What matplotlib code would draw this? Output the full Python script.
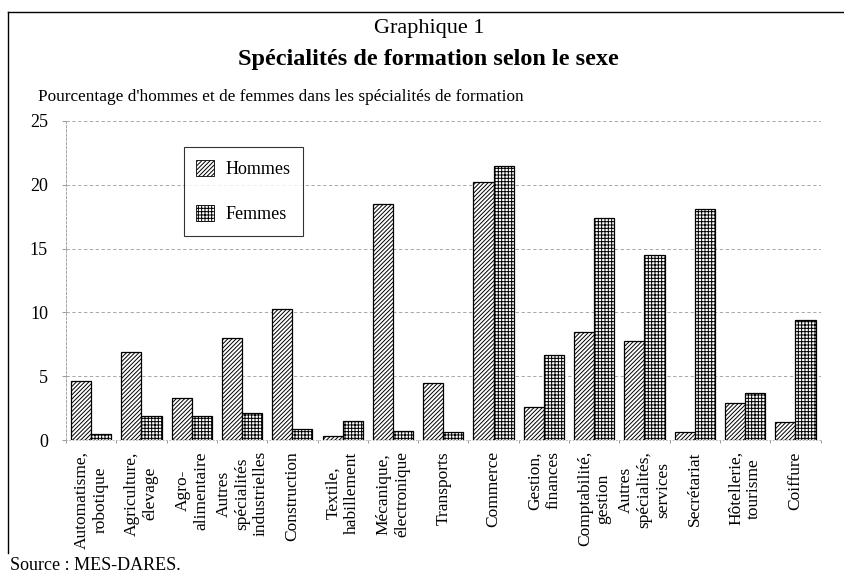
import numpy as np
import matplotlib
matplotlib.use("Agg")
import matplotlib.pyplot as plt
from matplotlib.lines import Line2D
from matplotlib.patches import Patch

plt.rcParams["font.family"] = ["Liberation Serif", "DejaVu Serif"]
plt.rcParams["hatch.linewidth"] = 0.7

categories = [
    "Automatisme,\nrobotique",
    "Agriculture,\nélevage",
    "Agro-\nalimentaire",
    "Autres\nspécialités\nindustrielles",
    "Construction",
    "Textile,\nhabillement",
    "Mécanique,\nélectronique",
    "Transports",
    "Commerce",
    "Gestion,\nfinances",
    "Comptabilité,\ngestion",
    "Autres\nspécialités,\nservices",
    "Secrétariat",
    "Hôtellerie,\ntourisme",
    "Coiffure",
]
hommes = [4.6, 6.9, 3.3, 8.0, 10.3, 0.3, 18.5, 4.5, 20.2, 2.6, 8.5, 7.8, 0.6, 2.9, 1.4]
femmes = [0.5, 1.9, 1.9, 2.1, 0.9, 1.5, 0.7, 0.6, 21.5, 6.7, 17.4, 14.5, 18.1, 3.7, 9.4]
yticks = [0, 5, 10, 15, 20, 25]

fig = plt.figure(figsize=(8.44, 5.76), dpi=100)
ax = fig.add_axes([0.0782, 0.236, 0.894, 0.554])

x = np.arange(len(categories))
w = 0.4
ax.bar(x - w / 2, hommes, w, color="white", edgecolor="black", linewidth=0.9,
       hatch="////////", label="Hommes", zorder=3)
ax.bar(x + w / 2, femmes, w, color="white", edgecolor="black", linewidth=0.9,
       hatch="+++++", label="Femmes", zorder=3)

ax.set_xlim(-0.5, len(categories) - 0.5)
ax.set_ylim(0, 25)
ax.set_yticks(yticks)
ax.set_yticklabels([str(v) for v in yticks], fontsize=13)
ax.tick_params(axis="y", length=3, width=0.6, color="#888888", pad=10)

ax.set_xticks(x)
ax.set_xticklabels(categories, rotation=90, fontsize=12.5, ha="center", va="top",
                   multialignment="center")
ax.set_xticks(np.arange(-0.5, len(categories), 1), minor=True)
ax.tick_params(axis="x", which="major", length=0, pad=8)
ax.tick_params(axis="x", which="minor", length=2, width=0.6, color="#888888")

ax.grid(axis="y", linestyle=(0, (4, 3)), color="#9a9a9a", linewidth=0.6, zorder=0)
for s in ["top", "right"]:
    ax.spines[s].set_visible(False)
ax.spines["left"].set_linestyle((0, (3, 2)))
ax.spines["left"].set_color("#999999")
ax.spines["left"].set_linewidth(0.6)
ax.spines["bottom"].set_linestyle((0, (1, 3)))
ax.spines["bottom"].set_color("#aaaaaa")
ax.spines["bottom"].set_linewidth(0.6)

handles = [Patch(facecolor="white", edgecolor="black", hatch="////////", linewidth=0.6),
           Patch(facecolor="white", edgecolor="black", hatch="+++++", linewidth=0.6)]
leg = ax.legend(handles, ["Hommes", "Femmes"], loc="upper left",
                bbox_to_anchor=(0.156, 0.918), borderaxespad=0, fontsize=13,
                frameon=True, fancybox=False, edgecolor="black", handlelength=1.0,
                handleheight=1.0, labelspacing=1.5, borderpad=0.7, handletextpad=0.6)
leg.get_frame().set_linewidth(0.8)

# titles and page frame
fig.text(0.508, 0.950, "Graphique 1", ha="center", va="center", fontsize=16)
fig.text(0.508, 0.896, "Spécialités de formation selon le sexe", ha="center",
         va="center", fontsize=17.5, fontweight="bold")
fig.text(0.045, 0.832, "Pourcentage d'hommes et de femmes dans les spécialités de formation",
         ha="left", va="center", fontsize=12.4)
fig.text(0.012, 0.018, "Source : MES-DARES.", ha="left", va="center", fontsize=13)

fig.add_artist(Line2D([0.009, 0.009], [0.04, 0.979], transform=fig.transFigure,
                      color="black", linewidth=1.0))
fig.add_artist(Line2D([0.009, 1.0], [0.979, 0.979], transform=fig.transFigure,
                      color="black", linewidth=1.0))

fig.savefig("out.png", dpi=100)
